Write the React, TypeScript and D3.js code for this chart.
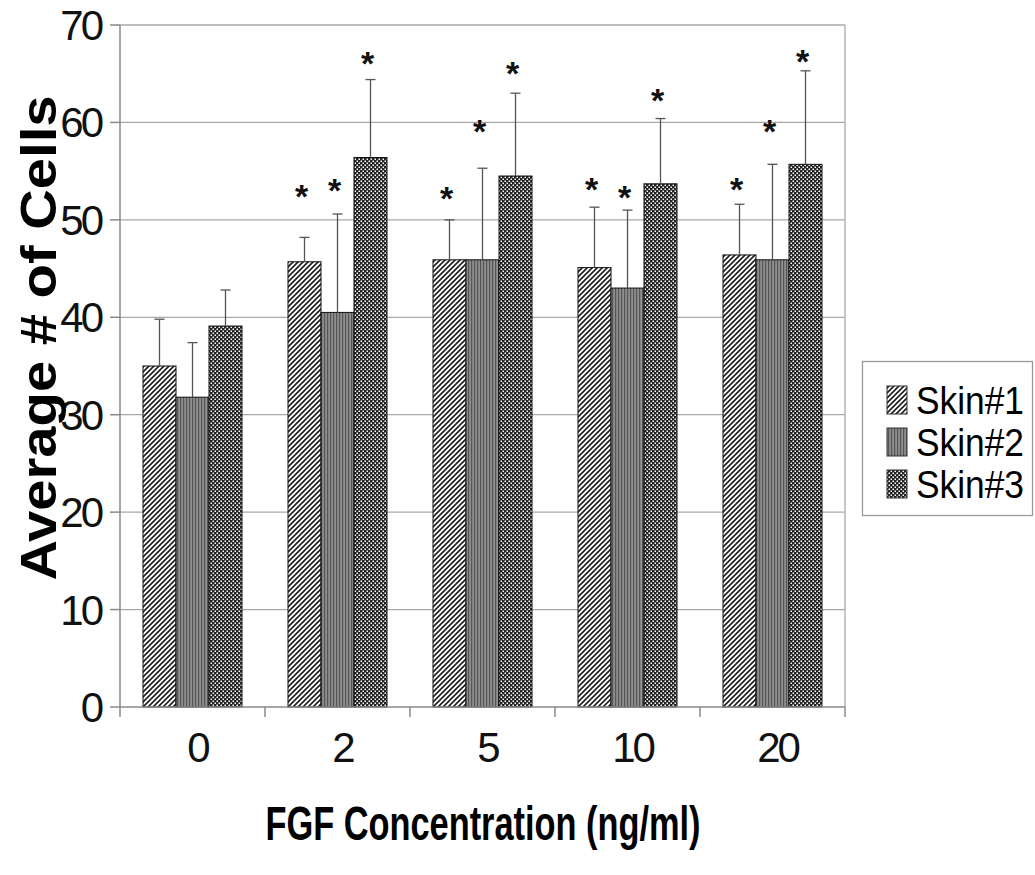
import React from "react";
import * as d3 from "d3";

const categories = ["0", "2", "5", "10", "20"];
const seriesNames = ["Skin#1", "Skin#2", "Skin#3"];
const skin1 = [35.0, 45.7, 45.9, 45.1, 46.4];
const skin2 = [31.8, 40.5, 45.9, 43.0, 45.9];
const skin3 = [39.1, 56.4, 54.5, 53.7, 55.7];
const skin1Err = [4.8, 2.5, 4.1, 6.2, 5.2];
const skin2Err = [5.6, 10.1, 9.4, 8.0, 9.8];
const skin3Err = [3.7, 8.0, 8.5, 6.7, 9.6];
const skin1Star = [null, 53.3, 53.1, 54.0, 54.0];
const skin2Star = [null, 53.9, 59.9, 53.2, 59.9];
const skin3Star = [null, 66.9, 65.9, 63.1, 67.1];
const yTicks = [0, 10, 20, 30, 40, 50, 60, 70];

const values = [skin1, skin2, skin3];
const errs = [skin1Err, skin2Err, skin3Err];
const stars = [skin1Star, skin2Star, skin3Star];
const patternIds = ["p1", "p2", "p3"];

const L = 120, R = 845, T = 25, B = 707;
const font = "'Liberation Sans', Arial, sans-serif";

export default function App() {
  const x = d3.scaleBand<string>().domain(categories).range([L, R]).paddingInner(0).paddingOuter(0);
  const y = d3.scaleLinear().domain([0, 70]).range([B, T]);
  const groupW = 99;
  const xs = d3.scaleBand<string>().domain(seriesNames).range([0, groupW]);
  const bw = xs.bandwidth();
  const gridColor = "#a8a8a8";
  const axisColor = "#8a8a8a";

  return (
    <svg width={1035} height={875} style={{ position: "absolute", left: 0, top: 0, background: "#fff" }}>
      <defs>
        <pattern id="p1" patternUnits="userSpaceOnUse" width={5} height={5}>
          <rect width={5} height={5} fill="#fff" />
          <path d="M-1,1 L1,-1 M0,5 L5,0 M4,6 L6,4" stroke="#222" strokeWidth={1.7} />
        </pattern>
        <pattern id="p2" patternUnits="userSpaceOnUse" width={3} height={3}>
          <rect width={3} height={3} fill="#8e8e8e" />
          <rect x={0} width={1.2} height={3} fill="#555" />
        </pattern>
        <pattern id="p3" patternUnits="userSpaceOnUse" width={4} height={4}>
          <rect width={4} height={4} fill="#222" />
          <rect x={0.5} y={0.5} width={1.5} height={1.5} fill="#fff" />
          <rect x={2.5} y={2.5} width={1.5} height={1.5} fill="#fff" />
        </pattern>
      </defs>

      {/* gridlines */}
      {yTicks.filter((t) => t > 0).map((t) => (
        <line key={"g" + t} x1={L} x2={R} y1={y(t)} y2={y(t)} stroke={gridColor} strokeWidth={1.3} />
      ))}
      <line x1={R} x2={R} y1={T} y2={B} stroke={gridColor} strokeWidth={1.3} />

      {/* bars */}
      {categories.map((c, ci) => {
        const gx = (x(c) as number) + (x.bandwidth() - groupW) / 2;
        return (
          <g key={c}>
            {seriesNames.map((s, si) => {
              const v = values[si][ci];
              const bx = gx + (xs(s) as number);
              return (
                <rect key={s} x={bx} y={y(v)} width={bw} height={B - y(v)}
                  fill={`url(#${patternIds[si]})`} stroke="#111" strokeWidth={1} />
              );
            })}
            {seriesNames.map((s, si) => {
              const v = values[si][ci];
              const e = errs[si][ci];
              const cx = gx + (xs(s) as number) + bw / 2;
              return (
                <g key={"e" + s} stroke="#555" strokeWidth={1.3}>
                  <line x1={cx} x2={cx} y1={y(v)} y2={y(v + e)} />
                  <line x1={cx - 5} x2={cx + 5} y1={y(v + e)} y2={y(v + e)} />
                </g>
              );
            })}
            {seriesNames.map((s, si) => {
              const st = stars[si][ci];
              if (st == null) return null;
              const cx = gx + (xs(s) as number) + bw / 2 - 3;
              return (
                <text key={"s" + s} x={cx} y={y(st) + 20} textAnchor="middle" fontFamily={font}
                  fontSize={34} fontWeight="bold" fill="#111">*</text>
              );
            })}
          </g>
        );
      })}

      {/* axes */}
      <line x1={L} x2={L} y1={T} y2={B} stroke={axisColor} strokeWidth={1.5} />
      <line x1={L} x2={R} y1={B} y2={B} stroke={axisColor} strokeWidth={1.5} />
      {yTicks.map((t) => (
        <g key={"yt" + t}>
          <line x1={L - 10} x2={L} y1={y(t)} y2={y(t)} stroke={axisColor} strokeWidth={1.5} />
          <text x={101} y={y(t) + 15} textAnchor="end" fontFamily={font} fontSize={42}
            letterSpacing={-3} fill="#111">{t}</text>
        </g>
      ))}
      {categories.map((c) => (
        <line key={"xt" + c} x1={x(c) as number} x2={x(c) as number} y1={B} y2={B + 10}
          stroke={axisColor} strokeWidth={1.5} />
      ))}
      <line x1={R} x2={R} y1={B} y2={B + 10} stroke={axisColor} strokeWidth={1.5} />
      {categories.map((c) => (
        <text key={"xl" + c} x={(x(c) as number) + x.bandwidth() / 2 + 5} y={762} textAnchor="middle"
          fontFamily={font} fontSize={42} letterSpacing={-3} fill="#111">{c}</text>
      ))}

      {/* axis titles */}
      <text x={483} y={840} textAnchor="middle" fontFamily={font} fontWeight="bold" fontSize={48}
        textLength={435} lengthAdjust="spacingAndGlyphs" fill="#000">FGF Concentration (ng/ml)</text>
      <text transform="translate(56,338) rotate(-90)" textAnchor="middle" fontFamily={font}
        fontWeight="bold" fontSize={50} textLength={485} lengthAdjust="spacingAndGlyphs" fill="#000">
        Average # of Cells
      </text>

      {/* legend */}
      <rect x={862.5} y={361.5} width={170} height={154} fill="#fff" stroke="#999" strokeWidth={1.3} />
      {seriesNames.map((s, i) => (
        <g key={"lg" + s}>
          <rect x={887} y={386 + i * 42} width={20} height={28} fill={`url(#${patternIds[i]})`}
            stroke="#333" strokeWidth={1} />
          <text x={916} y={414 + i * 42} fontFamily={font} fontSize={38} textLength={108}
            lengthAdjust="spacingAndGlyphs" fill="#000">{s}</text>
        </g>
      ))}
    </svg>
  );
}
